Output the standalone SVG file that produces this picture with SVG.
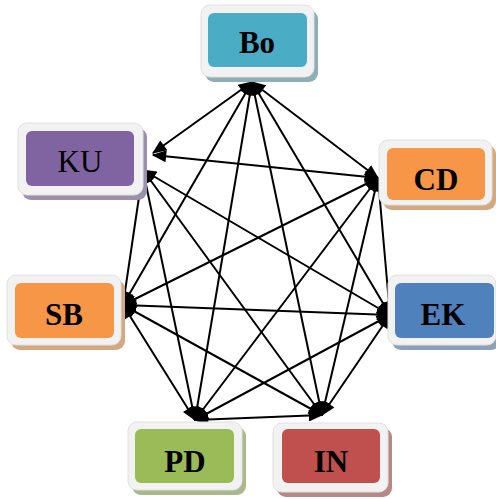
<svg xmlns="http://www.w3.org/2000/svg" width="496" height="499" viewBox="0 0 496 499">
<defs>
<marker id="ah" viewBox="0 0 12 10" refX="11" refY="5" markerWidth="15" markerHeight="12" markerUnits="userSpaceOnUse" orient="auto-start-reverse">
<path d="M0,0 L12,5 L0,10 z" fill="#000"/>
</marker>
<style>
.frame{fill:#f2f2f2;stroke:#e0e0e0;stroke-width:1}
.lbl{font-family:"Liberation Serif","Times New Roman",serif;font-size:31px;font-weight:bold;fill:#000;text-anchor:middle}
.edge{stroke:#000;stroke-width:2;fill:none;marker-start:url(#ah);marker-end:url(#ah)}
</style>
</defs>
<rect width="496" height="499" fill="#fff"/>
<g id="connectors">
<line class="edge" x1="252" y1="82" x2="153" y2="153"/>
<line class="edge" x1="252" y1="82" x2="378" y2="178"/>
<line class="edge" x1="252" y1="82" x2="123" y2="305"/>
<line class="edge" x1="252" y1="82" x2="390" y2="315"/>
<line class="edge" x1="252" y1="82" x2="195" y2="420"/>
<line class="edge" x1="252" y1="82" x2="322" y2="415"/>
<line class="edge" x1="153" y1="155" x2="378" y2="178"/>
<line class="edge" x1="143" y1="170" x2="123" y2="305"/>
<line class="edge" x1="143" y1="170" x2="390" y2="315"/>
<line class="edge" x1="143" y1="170" x2="195" y2="420"/>
<line class="edge" x1="143" y1="170" x2="322" y2="415"/>
<line class="edge" x1="378" y1="178" x2="123" y2="305"/>
<line class="edge" x1="378" y1="178" x2="390" y2="315"/>
<line class="edge" x1="378" y1="178" x2="195" y2="420"/>
<line class="edge" x1="378" y1="178" x2="322" y2="415"/>
<line class="edge" x1="123" y1="305" x2="390" y2="315"/>
<line class="edge" x1="123" y1="305" x2="195" y2="420"/>
<line class="edge" x1="123" y1="305" x2="322" y2="415"/>
<line class="edge" x1="390" y1="315" x2="195" y2="420"/>
<line class="edge" x1="390" y1="315" x2="322" y2="415"/>
<line class="edge" x1="195" y1="420" x2="322" y2="415"/>
</g>
<g id="node-Bo">
<rect x="205" y="10" width="113" height="72" rx="9" fill="#8fadb5"/>
<rect class="frame" x="201" y="5" width="113" height="72" rx="9"/>
<rect x="208" y="13" width="99" height="54" rx="6" fill="#4bacc6"/>
<text class="lbl" x="257" y="53">Bo</text>
</g>
<g id="node-KU">
<rect x="22" y="128" width="125" height="72" rx="9" fill="#9c8fae"/>
<rect class="frame" x="18" y="123" width="125" height="72" rx="9"/>
<rect x="26" y="131" width="108" height="55" rx="6" fill="#8064a2"/>
<text class="lbl" x="80" y="172" style="font-weight:normal">KU</text>
</g>
<g id="node-CD">
<rect x="383" y="145" width="113" height="65" rx="9" fill="#d4a880"/>
<rect class="frame" x="379" y="140" width="113" height="65" rx="9"/>
<rect x="387" y="148" width="98" height="52" rx="6" fill="#f79646"/>
<text class="lbl" x="436" y="190">CD</text>
</g>
<g id="node-SB">
<rect x="11" y="280" width="114" height="70" rx="9" fill="#d4a880"/>
<rect class="frame" x="7" y="275" width="114" height="70" rx="9"/>
<rect x="15" y="283" width="99" height="55" rx="6" fill="#f79646"/>
<text class="lbl" x="64" y="325">SB</text>
</g>
<g id="node-EK">
<rect x="392" y="280" width="108" height="70" rx="9" fill="#8e9fb8"/>
<rect class="frame" x="388" y="275" width="108" height="70" rx="9"/>
<rect x="395" y="283" width="99" height="55" rx="6" fill="#4f81bd"/>
<text class="lbl" x="443" y="325">EK</text>
</g>
<g id="node-PD">
<rect x="132" y="427" width="114" height="68" rx="9" fill="#a9b98a"/>
<rect class="frame" x="128" y="422" width="114" height="68" rx="9"/>
<rect x="135" y="429" width="99" height="54" rx="6" fill="#9bbb59"/>
<text class="lbl" x="185" y="472">PD</text>
</g>
<g id="node-IN">
<rect x="277" y="428" width="115" height="69" rx="9" fill="#b98886"/>
<rect class="frame" x="273" y="423" width="115" height="69" rx="9"/>
<rect x="282" y="429" width="98" height="54" rx="6" fill="#c0504d"/>
<text class="lbl" x="331" y="472">IN</text>
</g>
</svg>
